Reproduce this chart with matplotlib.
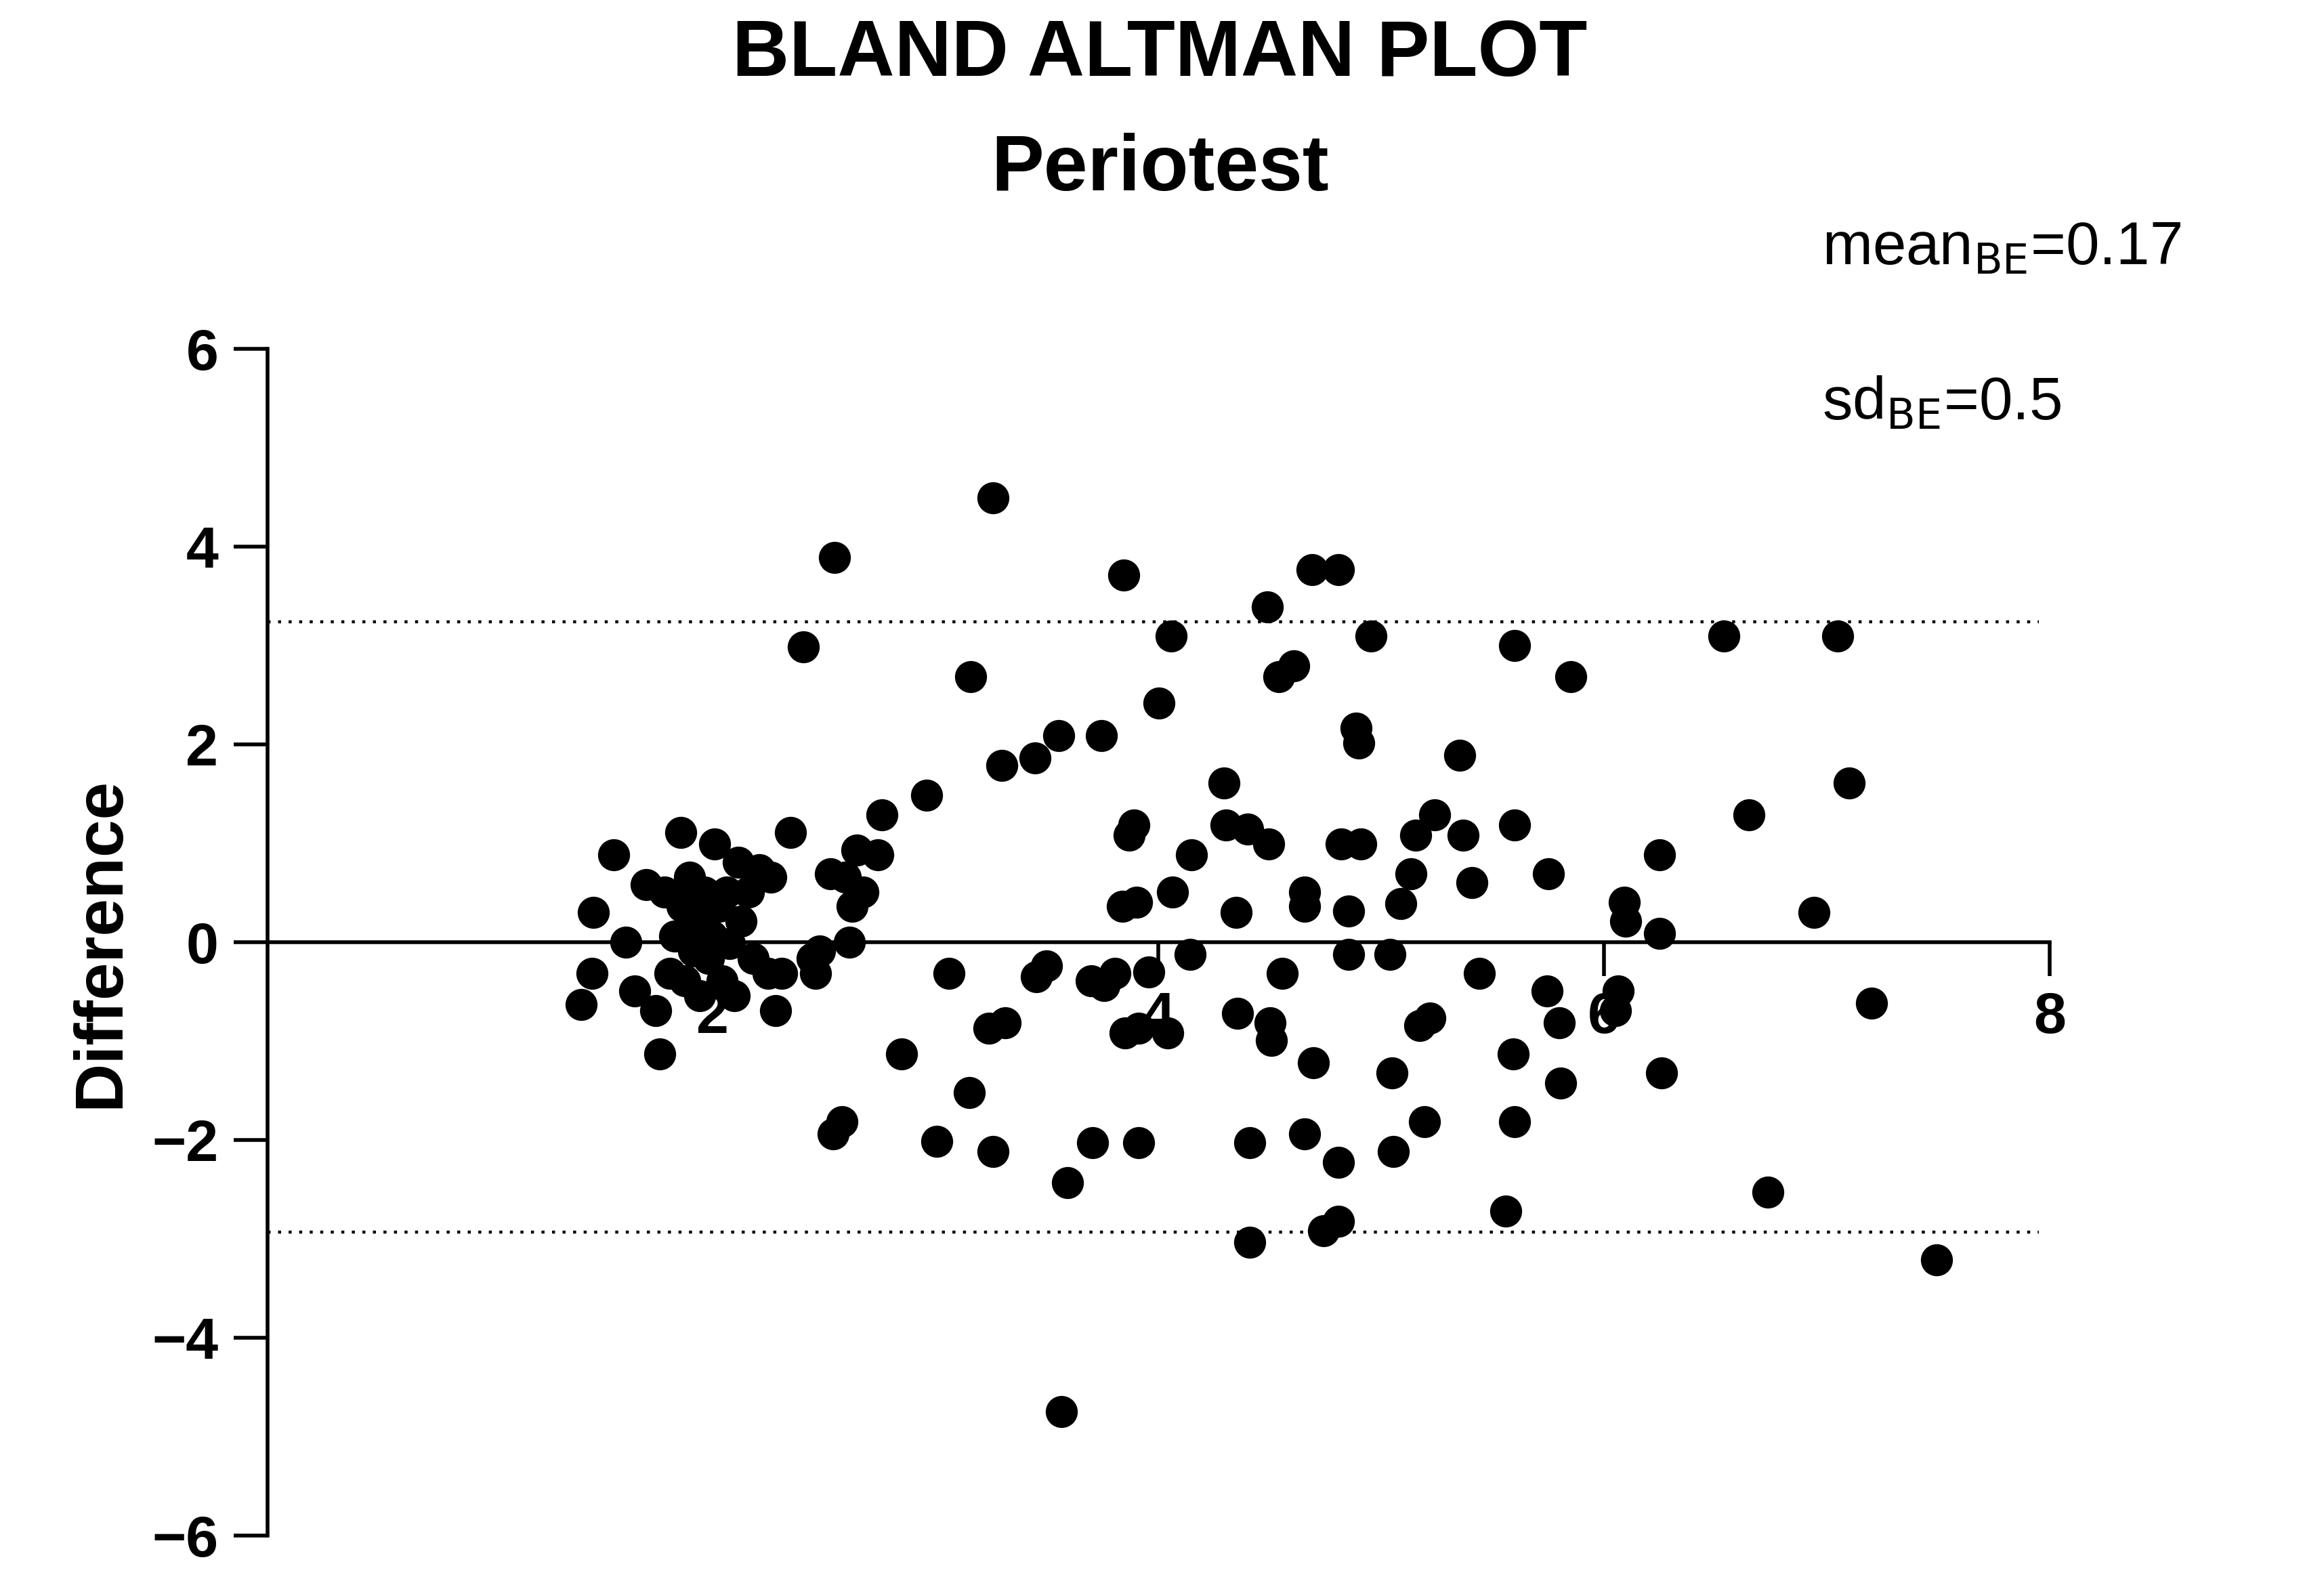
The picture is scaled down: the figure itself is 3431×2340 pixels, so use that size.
import numpy as np
import matplotlib
matplotlib.use("Agg")
import matplotlib.pyplot as plt

plt.rcParams["font.family"] = ["Liberation Sans", "DejaVu Sans"]

# points (pixel estimates converted to data units)
px = [392,400,399,414,422,428,436,445,442,448,452,455,459,460,462,465,468,470,472,475,478,480,482,485,487,490,492,495,498,500,505,508,512,518,520,523,527,533,542,548,550,553,560,562,563,568,570,573,575,578,582,592,595,608,625,632,640,654,655,667,670,670,676,678,698,699,706,714,716,720,736,737,743,745,752,757,758,759,762,765,767,768,768,775,782,788,790,791,803,804,826,827,834,835,842,843,843,855,856,857,858,863,865,873,880,880,880,885,886,893,903,903,903,905,910,910,915,917,918,925,938,939,940,945,952,955,958,961,965,968,985,987,993,998,1016,1021,1022,1022,1022,1044,1045,1052,1053,1060,1096,1097,1092,1090,1120,1120,1121,1163,1180,1193,1224,1240,1248,1263,1307]
py = [676,614,655,575,634,667,595,709,680,600,655,630,560,610,660,590,640,620,670,600,645,630,568,610,660,600,635,670,580,620,600,645,585,655,590,680,655,560,435,645,655,640,588,763,375,755,590,634,610,572,600,575,548,709,535,768,655,735,455,692,335,775,515,688,510,657,650,495,950,796,660,769,495,663,655,610,387,695,562,555,607,692,769,654,473,695,428,600,642,575,527,555,614,682,558,836,769,408,568,688,700,455,655,448,600,610,763,383,715,828,383,822,782,568,613,642,490,500,568,428,642,722,775,608,588,562,690,755,685,548,508,562,594,655,815,709,755,555,434,667,588,688,729,455,607,620,667,680,575,628,722,428,548,802,614,428,527,675,848]
mean_vals = [(p - 180) / 150.4 for p in px]
diff_vals = [(634 - q) / 66.6 for q in py]
upper_loa = 3.24
lower_loa = -2.93

fig = plt.figure(figsize=(17.155, 11.7), dpi=200)
ax = fig.add_axes([0.115, 0.031, 0.767, 0.749])
ax.scatter(mean_vals, diff_vals, s=290, color="black", zorder=3, linewidths=0)
ax.plot([0, 7.95], [upper_loa] * 2, ls=(0, (1, 2.5)), color="black", lw=1.6)
ax.plot([0, 7.95], [lower_loa] * 2, ls=(0, (1, 2.5)), color="black", lw=1.6)

ax.set_xlim(0, 8)
ax.set_ylim(-6, 6)
for s in ["top", "right"]:
    ax.spines[s].set_visible(False)
ax.spines["bottom"].set_position(("data", 0))
ax.spines["bottom"].set_bounds(0, 8)
ax.spines["left"].set_bounds(-6, 6)
for s in ["bottom", "left"]:
    ax.spines[s].set_linewidth(2)
ax.set_xticks([2, 4, 6, 8])
ax.set_yticks([-6, -4, -2, 0, 2, 4, 6])
ax.tick_params(length=18, width=2, labelsize=31, pad=8)
for lab in ax.get_xticklabels() + ax.get_yticklabels():
    lab.set_fontweight("bold")
ax.set_ylabel("Difference", fontsize=36, fontweight="bold", labelpad=10)

fig.text(0.499, 0.965, "BLAND ALTMAN PLOT", ha="center", va="center", fontsize=42, fontweight="bold")
fig.text(0.499, 0.893, "Periotest", ha="center", va="center", fontsize=42, fontweight="bold")
fig.text(0.784, 0.843, r"mean$_{\mathrm{BE}}$=0.17", fontsize=32, va="center")
fig.text(0.784, 0.745, r"sd$_{\mathrm{BE}}$=0.5", fontsize=32, va="center")
plt.rcParams["mathtext.fontset"] = "custom"

fig.savefig("out.png", dpi=200)
